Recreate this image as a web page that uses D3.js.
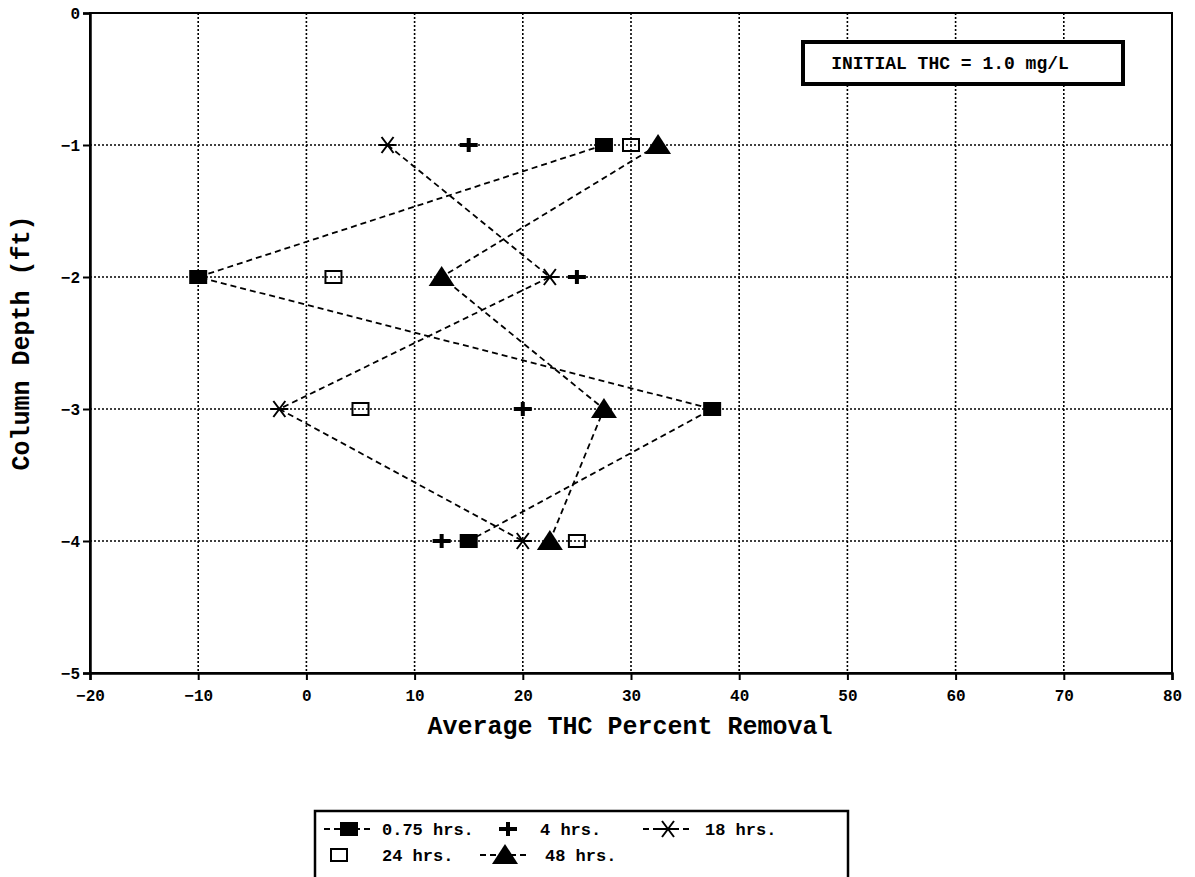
<!DOCTYPE html>
<html>
<head>
<meta charset="utf-8">
<script src="https://cdn.jsdelivr.net/npm/d3@7"></script>
<style>
 body{margin:0;background:#fff;}
 text{font-family:"Liberation Mono","DejaVu Sans Mono",monospace;font-weight:bold;fill:#000;}
</style>
</head>
<body>
<svg id="chart" width="1195" height="877"></svg>
<script>
// depths (ft) shared by every series
var depths=[-1,-2,-3,-4];
var hrs075=[27.5,-10,37.5,15];
var hrs4=[15,25,20,12.5];
var hrs18=[7.5,22.5,-2.5,20];
var hrs24=[30,2.5,5,25];
var hrs48=[32.5,12.5,27.5,22.5];
var xTicks=[-20,-10,0,10,20,30,40,50,60,70,80];
var yTicks=[0,-1,-2,-3,-4,-5];

var series=[
 {name:"0.75 hrs.",vals:hrs075,sym:"fsquare",line:true},
 {name:"4 hrs.",vals:hrs4,sym:"plus",line:false},
 {name:"18 hrs.",vals:hrs18,sym:"star",line:true},
 {name:"24 hrs.",vals:hrs24,sym:"osquare",line:false},
 {name:"48 hrs.",vals:hrs48,sym:"tri",line:true}
];

var svg=d3.select("#chart");
var L=90,R=1172,T=13,B=673;
var x=d3.scaleLinear().domain([-20,80]).range([L,R]);
var y=d3.scaleLinear().domain([-5,0]).range([B,T]);

// grid
var g=svg.append("g");
g.selectAll("line.vg").data(xTicks.slice(1,-1)).enter().append("line")
 .attr("x1",d=>x(d)).attr("x2",d=>x(d)).attr("y1",T).attr("y2",B)
 .attr("stroke","#000").attr("stroke-width",1.6).attr("stroke-dasharray","2,2");
g.selectAll("line.hg").data(yTicks.slice(1,-1)).enter().append("line")
 .attr("x1",L).attr("x2",R).attr("y1",d=>y(d)).attr("y2",d=>y(d))
 .attr("stroke","#000").attr("stroke-width",1.6).attr("stroke-dasharray","2,2");

// frame
svg.append("rect").attr("x",L).attr("y",T).attr("width",R-L).attr("height",B-T)
 .attr("fill","none").attr("stroke","#000").attr("stroke-width",2);

// axes
var xa=svg.append("g").attr("transform","translate(0,"+B+")")
 .call(d3.axisBottom(x).tickValues(xTicks).tickSize(7).tickFormat(d3.format("d")));
var ya=svg.append("g").attr("transform","translate("+L+",0)")
 .call(d3.axisLeft(y).tickValues(yTicks).tickSize(7).tickFormat(d=>d===0?"0":"\u2212"+Math.abs(d)));
[xa,ya].forEach(function(a){
 a.select(".domain").attr("stroke-width",2.5);
 a.selectAll(".tick line").attr("stroke-width",2);
 a.selectAll("text").style("font-size","16px");
});
xa.selectAll("text").attr("dy","1.15em");

svg.append("text").attr("x",630).attr("y",734).attr("text-anchor","middle")
 .style("font-size","25px").text("Average THC Percent Removal");
svg.append("text").attr("transform","translate(29,"+343+") rotate(-90)")
 .attr("text-anchor","middle").style("font-size","25px").text("Column Depth (ft)");

// annotation box
svg.append("rect").attr("x",803).attr("y",42).attr("width",320).attr("height",42)
 .attr("fill","#fff").attr("stroke","#000").attr("stroke-width",4);
svg.append("text").attr("x",950).attr("y",69).attr("text-anchor","middle")
 .style("font-size","18px").text("INITIAL THC = 1.0 mg/L");

function drawSym(sel,sym){
 if(sym==="fsquare"){
  sel.append("rect").attr("x",-9).attr("y",-7).attr("width",18).attr("height",14).attr("fill","#000");
 }else if(sym==="osquare"){
  sel.append("rect").attr("x",-8).attr("y",-6).attr("width",16).attr("height",12)
   .attr("fill","none").attr("stroke","#000").attr("stroke-width",2);
 }else if(sym==="tri"){
  sel.append("path").attr("d","M0,-11L13,9L-13,9Z").attr("fill","#000");
 }else if(sym==="plus"){
  sel.append("path").attr("d","M-9,0H9M0,-7V7").attr("stroke","#000").attr("stroke-width",4);
 }else if(sym==="star"){
  sel.append("path").attr("d","M-9,0H9M-6,-8L6,8M6,-8L-6,8").attr("stroke","#000").attr("stroke-width",2);
 }
}

// series lines then markers
var lineGen=d3.line().x(d=>x(d[0])).y(d=>y(d[1]));
series.forEach(function(s){
 var pts=s.vals.map((v,i)=>[v,depths[i]]);
 if(s.line){
  svg.append("path").datum(pts).attr("d",lineGen).attr("fill","none")
   .attr("stroke","#000").attr("stroke-width",1.8).attr("stroke-dasharray","6,4");
 }
});
series.forEach(function(s){
 s.vals.forEach(function(v,i){
  drawSym(svg.append("g").attr("transform","translate("+x(v)+","+y(depths[i])+")"),s.sym);
 });
});

// legend
var lg=svg.append("g");
lg.append("rect").attr("x",315).attr("y",811).attr("width",533).attr("height",70)
 .attr("fill","#fff").attr("stroke","#000").attr("stroke-width",2.5);
var legPos=[[349,829,382],[508,829,540],[668,829,705],[339,855,382],[505,855,545]];
series.forEach(function(s,i){
 var p=legPos[i];
 if(s.line){
  lg.append("line").attr("x1",p[0]-25).attr("x2",p[0]+25).attr("y1",p[1]).attr("y2",p[1])
   .attr("stroke","#000").attr("stroke-width",1.8).attr("stroke-dasharray","6,4");
 }
 drawSym(lg.append("g").attr("transform","translate("+p[0]+","+p[1]+")"),s.sym);
 lg.append("text").attr("x",p[2]).attr("y",p[1]+6).style("font-size","17px").text(s.name);
});
</script>
</body>
</html>
